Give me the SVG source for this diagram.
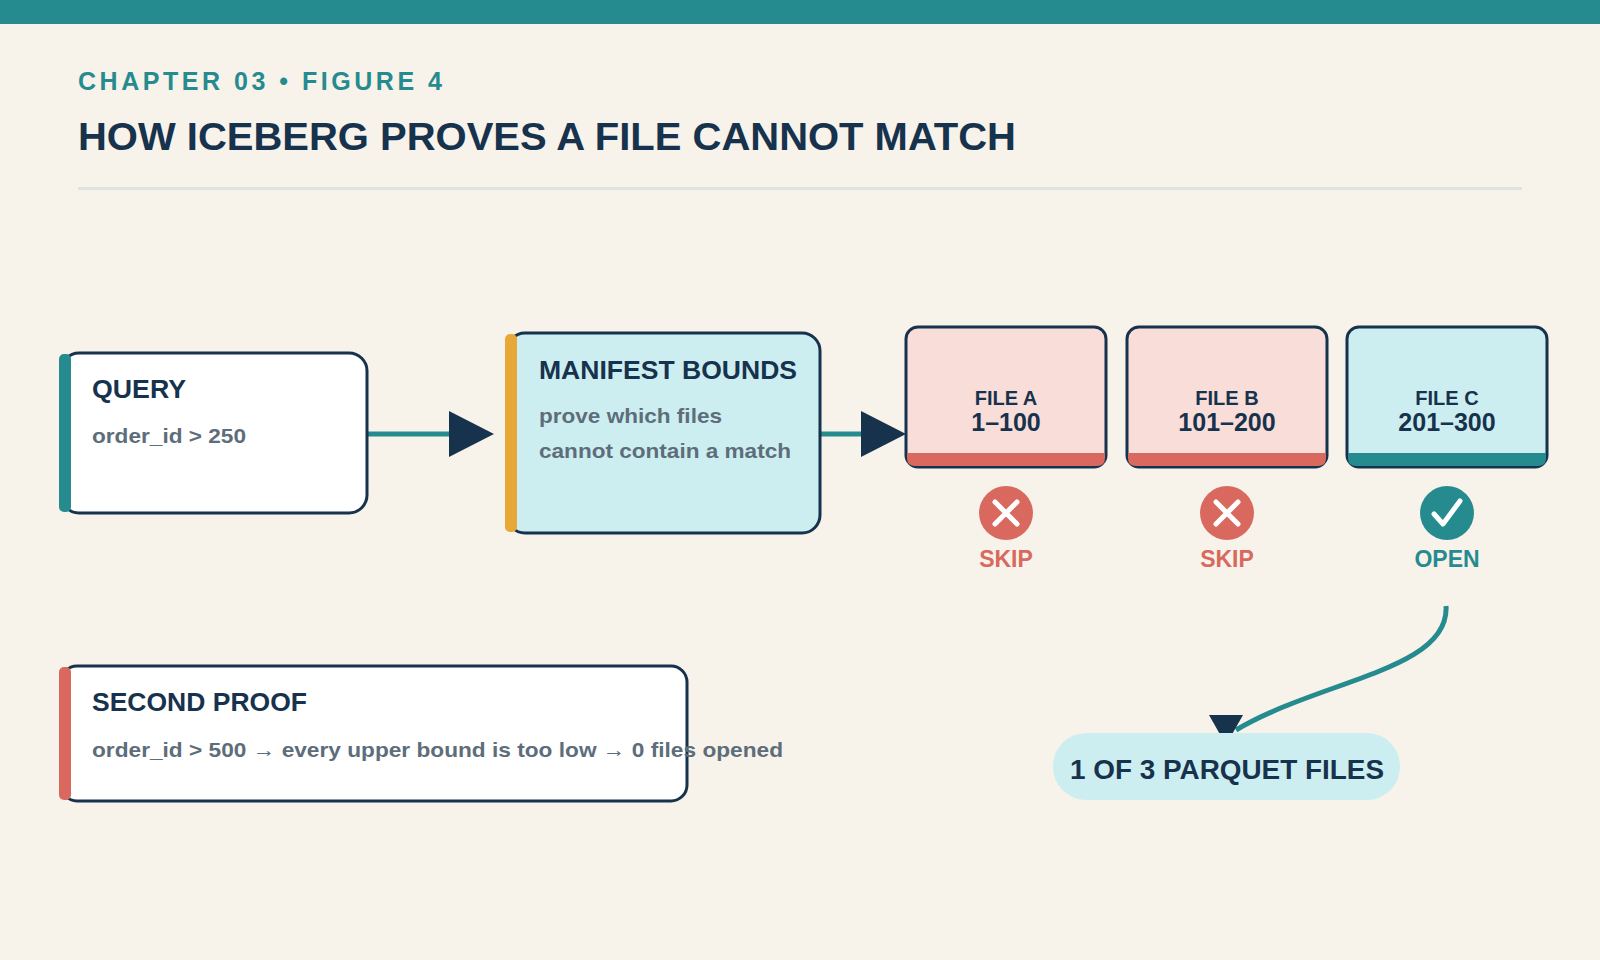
<svg xmlns="http://www.w3.org/2000/svg" width="1600" height="960" viewBox="0 0 1600 960">
<style>
text{font-family:"Liberation Sans",Arial,sans-serif;font-weight:bold}
.box{stroke:#17324d;stroke-width:3}
.h{fill:#17324d;font-size:26px}
.s{fill:#5d6d7a;font-size:21px}
.fl{fill:#17324d;font-size:20px;text-anchor:middle}
.fr{fill:#17324d;font-size:25px;text-anchor:middle}
.lbl{font-size:23px;text-anchor:middle}
.edge{stroke:#268b8f;stroke-width:5;fill:none}
</style>
<rect width="1600" height="960" fill="#f7f3ea"/>
<rect width="1600" height="24" fill="#268b8f"/>
<text x="78" y="90" fill="#268b8f" font-size="25" letter-spacing="3" textLength="367" lengthAdjust="spacing">CHAPTER 03 • FIGURE 4</text>
<text x="78" y="150" fill="#17324d" font-size="39" textLength="938" lengthAdjust="spacingAndGlyphs">HOW ICEBERG PROVES A FILE CANNOT MATCH</text>
<rect x="78" y="187" width="1444" height="3" fill="#dde3e0"/>

<g id="connectors">
<line class="edge" x1="367" y1="434" x2="452" y2="434"/>
<path d="M449,411L494,434L449,457Z" fill="#17324d"/>
<line class="edge" x1="820" y1="434" x2="864" y2="434"/>
<path d="M861,411L906,434L861,457Z" fill="#17324d"/>
<path class="edge" d="M1446,606C1450,670 1320,680 1236,730"/>
<path d="M1209,715L1243,715L1226,745Z" fill="#17324d"/>
</g>

<g id="query">
<rect class="box" x="61" y="353" width="306" height="160" rx="18" fill="#fff"/>
<rect x="59" y="354" width="12" height="158" rx="5" fill="#268b8f"/>
<text class="h" x="92" y="398" textLength="94" lengthAdjust="spacingAndGlyphs">QUERY</text>
<text class="s" x="92" y="443" textLength="154" lengthAdjust="spacingAndGlyphs">order_id &gt; 250</text>
</g>

<g id="manifest">
<rect class="box" x="507" y="333" width="313" height="200" rx="18" fill="#cdeef0"/>
<rect x="505" y="334" width="12" height="198" rx="5" fill="#e8a838"/>
<text class="h" x="539" y="379" textLength="258" lengthAdjust="spacingAndGlyphs">MANIFEST BOUNDS</text>
<text class="s" x="539" y="423" textLength="183" lengthAdjust="spacingAndGlyphs">prove which files</text>
<text class="s" x="539" y="458" textLength="252" lengthAdjust="spacingAndGlyphs">cannot contain a match</text>
</g>

<g id="fileA">
<rect class="box" x="906" y="327" width="200" height="140" rx="12" fill="#f9ddd8"/>
<path d="M907,453H1105V458Q1105,466 1097,466H915Q907,466 907,458Z" fill="#d9695f"/>
<text class="fl" x="1006" y="405">FILE A</text>
<text class="fr" x="1006" y="431">1–100</text>
<circle cx="1006" cy="513" r="27" fill="#d9695f"/>
<path d="M995,502L1017,524M1017,502L995,524" stroke="#fff" stroke-width="5" stroke-linecap="round"/>
<text class="lbl" x="1006" y="567" fill="#d9695f">SKIP</text>
</g>
<g id="fileB">
<rect class="box" x="1127" y="327" width="200" height="140" rx="12" fill="#f9ddd8"/>
<path d="M1128,453H1326V458Q1326,466 1318,466H1136Q1128,466 1128,458Z" fill="#d9695f"/>
<text class="fl" x="1227" y="405">FILE B</text>
<text class="fr" x="1227" y="431">101–200</text>
<circle cx="1227" cy="513" r="27" fill="#d9695f"/>
<path d="M1216,502L1238,524M1238,502L1216,524" stroke="#fff" stroke-width="5" stroke-linecap="round"/>
<text class="lbl" x="1227" y="567" fill="#d9695f">SKIP</text>
</g>
<g id="fileC">
<rect class="box" x="1347" y="327" width="200" height="140" rx="12" fill="#cdeef0"/>
<path d="M1348,453H1546V458Q1546,466 1538,466H1356Q1348,466 1348,458Z" fill="#268b8f"/>
<text class="fl" x="1447" y="405">FILE C</text>
<text class="fr" x="1447" y="431">201–300</text>
<circle cx="1447" cy="513" r="27" fill="#268b8f"/>
<path d="M1434,514L1443,524L1460,501" stroke="#fff" stroke-width="5" fill="none" stroke-linecap="round" stroke-linejoin="round"/>
<text class="lbl" x="1447" y="567" fill="#268b8f">OPEN</text>
</g>

<g id="result">
<rect x="1053" y="733" width="347" height="67" rx="33" fill="#cdeef0"/>
<text x="1227" y="779" fill="#17324d" font-size="27" text-anchor="middle" textLength="314" lengthAdjust="spacingAndGlyphs">1 OF 3 PARQUET FILES</text>
</g>

<g id="second">
<rect class="box" x="61" y="666" width="626" height="135" rx="16" fill="#fff"/>
<rect x="59" y="667" width="12" height="133" rx="5" fill="#d9695f"/>
<text class="h" x="92" y="711" textLength="215" lengthAdjust="spacingAndGlyphs">SECOND PROOF</text>
<text class="s" x="92" y="757" textLength="691" lengthAdjust="spacingAndGlyphs">order_id &gt; 500 → every upper bound is too low → 0 files opened</text>
</g>
</svg>
